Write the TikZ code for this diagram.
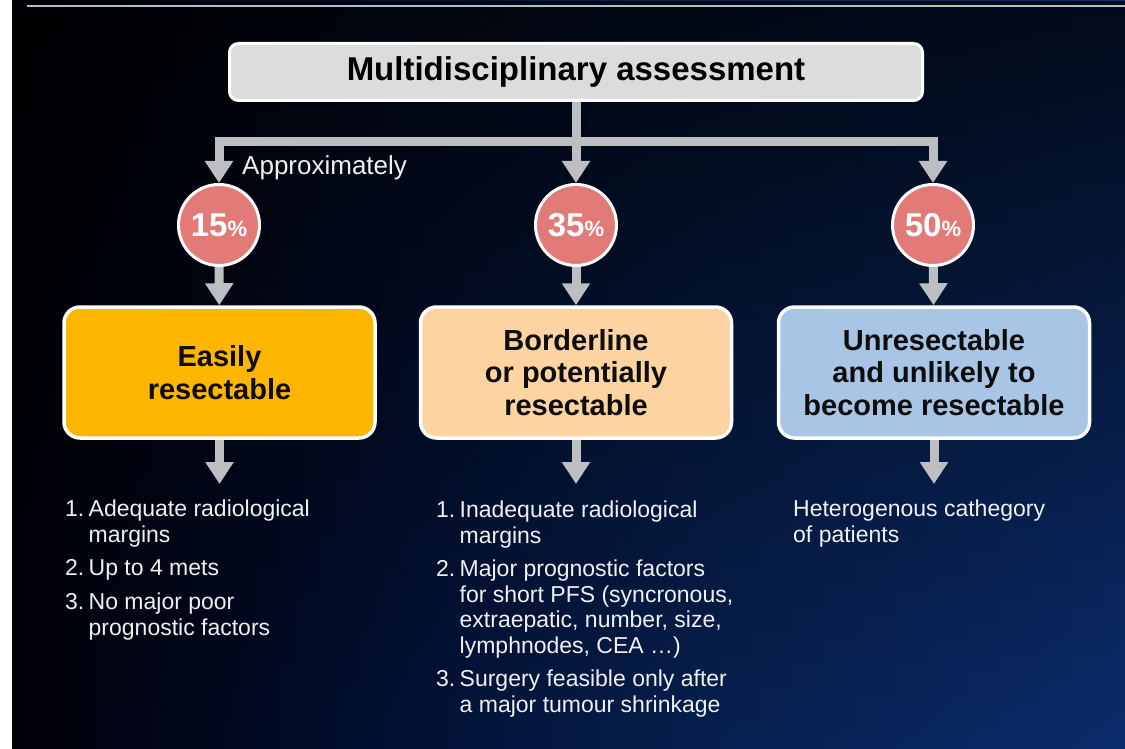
\documentclass[tikz,border=0pt]{standalone}
\usepackage{fontspec}
\setmainfont{Liberation Sans}
\usetikzlibrary{positioning,arrows.meta,fadings}

\definecolor{bgblack}{HTML}{01010A}
\definecolor{bgdeep}{HTML}{010516}
\definecolor{bgmid}{HTML}{031236}
\definecolor{bgblue}{HTML}{07204F}
\definecolor{bgnavy}{HTML}{0B2C6C}
\definecolor{arrowgray}{HTML}{BDBEC2}
\definecolor{titlefill}{HTML}{DCDCDC}
\definecolor{pctfill}{HTML}{E27A78}
\definecolor{easyfill}{HTML}{FFB600}
\definecolor{borderfill}{HTML}{FDD3A2}
\definecolor{unresfill}{HTML}{A8C5E5}
\definecolor{lineblue}{HTML}{B3BCC9}

\pgfdeclarehorizontalshading{slidebg}{100bp}{color(0bp)=(bgblack); color(25bp)=(bgblack);
  color(31bp)=(bgdeep); color(43bp)=(bgmid); color(56bp)=(bgblue); color(75bp)=(bgnavy);
  color(100bp)=(bgnavy)}

\newcommand{\pct}[1]{#1{\fontsize{22}{22}\selectfont\%}}
\newcommand{\itemno}[1]{\makebox[23.5pt][l]{#1}}
\newcommand{\gap}{\hspace*{23.5pt}}

\begin{document}
\begin{tikzpicture}[x=1pt,y=-1pt]

	% style of the boxes and arrows
	\tikzstyle{titlebox}=[draw=white, line width=3pt, fill=titlefill, rounded corners=9pt,
		minimum width=693pt, minimum height=57pt, font=\fontsize{33}{38}\selectfont\bfseries]
	\tikzstyle{pctcircle}=[circle, draw=white, line width=3pt, fill=pctfill, minimum size=81pt,
		inner sep=0pt, text=white, font=\fontsize{33}{33}\selectfont\bfseries]
	\tikzstyle{groupbox}=[draw=white, line width=3.5pt, rounded corners=16pt, minimum width=311pt,
		minimum height=131pt, align=center, text=black!95, font=\fontsize{29}{32.5}\selectfont\bfseries]
	\tikzstyle{listtext}=[anchor=north west, inner sep=0pt, align=left, text=white!94!black,
		font=\fontsize{23}{25.5}\selectfont]
	\tikzstyle{flow}=[draw=arrowgray, line width=9pt, -{Triangle[width=27pt,length=22pt]}]

	% slide background
	\useasboundingbox (0,0) rectangle (1125,749);
	\fill[white] (0,0) rectangle (12,749);
	\shade[shading=slidebg] (12,0) rectangle (1125,749);
	\fill[black, fill opacity=0.75, path fading=south] (12,0) rectangle (1125,749);
	\draw[lineblue, line width=2pt] (27,6) -- (1125,6);

	% assessment and percentages
	\node[titlebox] (title) at (576,72) {Multidisciplinary assessment};
	\node[pctcircle] (c15) at (219,225) {\pct{15}};
	\node[pctcircle] (c35) at (576,225) {\pct{35}};
	\node[pctcircle] (c50) at (933,225) {\pct{50}};
	\coordinate (split) at (576,142);
	\node[anchor=west, inner sep=0pt, text=white!94!black, font=\fontsize{26}{30}\selectfont]
		(approx) at (242,168) {Approximately};

	% the three groups
	\node[groupbox, fill=easyfill] (easy) at (219.5,372.5) {Easily\\resectable};
	\node[groupbox, fill=borderfill] (border) at (576,372.5) {Borderline\\or potentially\\resectable};
	\node[groupbox, fill=unresfill] (unres) at (934,372.5) {Unresectable\\and unlikely to\\become resectable};

	\coordinate (easyend) at (219.5,484);
	\coordinate (borderend) at (576,484);
	\coordinate (unresend) at (934,484);

	% lists under the groups
	\node[listtext] (e1) at (65,500) {\itemno{1.}Adequate radiological\\\gap margins};
	\node[listtext] (e2) at (65,559) {\itemno{2.}Up to 4 mets};
	\node[listtext] (e3) at (65,593) {\itemno{3.}No major poor\\\gap prognostic factors};

	\node[listtext] (b1) at (436,501) {\itemno{1.}Inadequate radiological\\\gap margins};
	\node[listtext] (b2) at (436,560) {\itemno{2.}Major prognostic factors\\\gap for short PFS (syncronous,\\\gap extraepatic, number, size,\\\gap lymphnodes, CEA \dots)};
	\node[listtext] (b3) at (436,670) {\itemno{3.}Surgery feasible only after\\\gap a major tumour shrinkage};

	\node[listtext] (u1) at (793,500) {Heterogenous cathegory\\of patients};

	% connectors
	\draw[flow] (title.south) -- (c35.north);
	\draw[flow] (split) -| (c15.north);
	\draw[flow] (split) -| (c50.north);
	\draw[flow] (c15) -- (easy);
	\draw[flow] (c35) -- (border);
	\draw[flow] (c50) -- (unres);
	\draw[flow] (easy) -- (easyend);
	\draw[flow] (border) -- (borderend);
	\draw[flow] (unres) -- (unresend);

\end{tikzpicture}
\end{document}
